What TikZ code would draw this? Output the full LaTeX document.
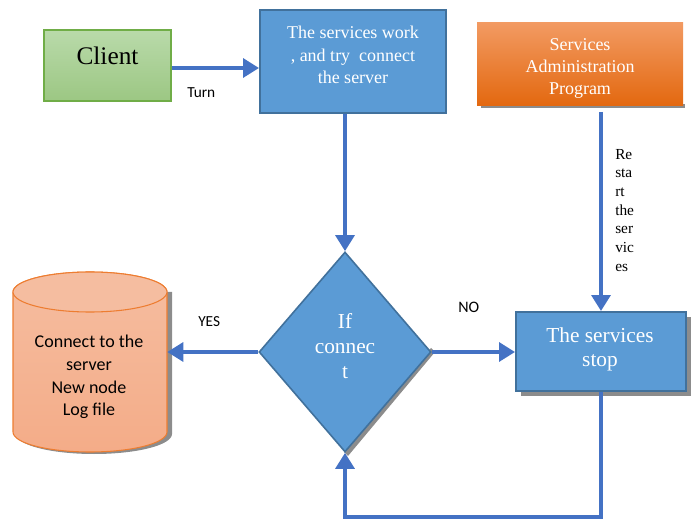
\documentclass[tikz,border=0pt]{standalone}
\usepackage{fontspec}
\setmainfont{Liberation Serif}
\newfontfamily\calib{Carlito}
\usetikzlibrary{shapes.geometric,arrows.meta}
\definecolor{boxblue}{HTML}{5B9BD5}
\definecolor{boxedge}{HTML}{41719C}
\definecolor{flow}{HTML}{4472C4}
\definecolor{gtop}{HTML}{B9DAAA}
\definecolor{gbot}{HTML}{9CC783}
\definecolor{gedge}{HTML}{70AD47}
\definecolor{otop}{HTML}{F29A62}
\definecolor{obot}{HTML}{E3680F}
\definecolor{salmon}{HTML}{F4AC88}
\definecolor{salmontop}{HTML}{F5BDA0}
\definecolor{salmonedge}{HTML}{ED7D31}
\definecolor{shade}{HTML}{8C8C8C}
\tikzset{
  flowline/.style={draw=flow, line width=3.6pt, -{Triangle[length=12pt,width=14pt]}},
  bluebox/.style={rectangle, fill=boxblue, draw=boxedge, line width=1.4pt, inner sep=0pt},
  boxtext/.style={text=white, align=center, inner sep=0pt},
  lbl/.style={font=\calib\fontsize{11.5}{13}\selectfont, inner sep=0pt},
  shadow/.style={fill=shade},
}
\begin{document}
\begin{tikzpicture}[x=0.75pt, y=-0.75pt]
\useasboundingbox (0,0) rectangle (693,520);

% shadows behind shapes
\fill[shadow] (481,104) rectangle (685,108);
\fill[shadow] (521,317) rectangle (691,396);
\fill[shadow] (435,352) -- (348,456) -- (344,452) -- (431,348) -- cycle;
\fill[shadow] (167,292) -- (172,292) -- (172,434)
  arc[start angle=0, end angle=180, x radius=78, y radius=20] -- cycle;

% client
\node[rectangle, top color=gtop, bottom color=gbot, draw=gedge, line width=0.8pt,
  minimum width=95.25pt, minimum height=53.25pt, inner sep=0pt] (client) at (107.5,65.5) {};
\node[anchor=base, inner sep=0pt, font=\fontsize{19}{22}\selectfont] (clienttext) at (107.5,65) {Client};

% services running
\node[bluebox, minimum width=139.5pt, minimum height=77.25pt] (work) at (353,61.5) {};
\node[boxtext, font=\fontsize{13.5}{17}\selectfont] (worktext) at (353,55)
  {The services work\\, and try\ \ connect\\the server};

% administration program
\node[rectangle, top color=otop, bottom color=obot, minimum width=154.5pt,
  minimum height=62.25pt, inner sep=0pt] (admin) at (580,64.5) {};
\node[boxtext, font=\fontsize{13.5}{16.5}\selectfont] (admintext) at (580,68)
  {Services\\Administration\\Program};

% decision
\node[diamond, fill=boxblue, draw=boxedge, line width=1.2pt, minimum width=129pt,
  minimum height=150pt, inner sep=0pt] (dia) at (345,352) {};
\node[boxtext, font=\fontsize{16}{19}\selectfont] (diatext) at (345,346) {If\\connec\\t};

% services stopped
\node[bluebox, minimum width=127.5pt, minimum height=59.25pt] (stop) at (601,351.5) {};
\node[boxtext, font=\fontsize{16}{18}\selectfont] (stoptext) at (600,349) {The services\\stop};

% database cylinder
\path[top color=salmontop, bottom color=salmon, draw=salmonedge, line width=0.8pt]
  (13,292) -- (13,432) arc[start angle=180, end angle=0, x radius=77, y radius=20]
  -- (167,292) arc[start angle=0, end angle=-180, x radius=77, y radius=20] -- cycle;
\draw[salmonedge, line width=0.8pt, fill=salmontop]
  (90,292) ellipse[x radius=77, y radius=20];
\node[rectangle, minimum width=115.5pt, minimum height=135pt, inner sep=0pt] (db) at (90,362) {};
\node[align=center, inner sep=0pt, font=\calib\fontsize{13.5}{17}\selectfont] (dbtext) at (89,377)
  {Connect to the\\server\\New node\\Log file};

% connectors
\draw[flowline] (client.east |- 0,68) -- (work.west |- 0,68);
\draw[flowline] (dia.north |- work.south) -- (dia.north);
\coordinate (admout) at (601,112);
\draw[flowline] (admout) -- (stop.north);
\draw[flowline] (dia.west) -- (dia.west -| db.east);
\draw[flowline] (dia.east) -- (stop.west |- dia.east);
\coordinate (loop) at (601,517);
\draw[flowline] (stop.south) -- (loop) -| (dia.south);

% connector labels
\node[lbl, anchor=west] (turn) at (187,93) {Turn};
\node[lbl, anchor=west] (yes) at (198,322) {YES};
\node[lbl, anchor=west, font=\calib\fontsize{12}{13}\selectfont] (no) at (458,307) {NO};
\node[anchor=north west, inner sep=0pt, align=left, font=\fontsize{11.5}{14}\selectfont] (restart) at (615,149)
  {Re\\sta\\rt\\the\\ser\\vic\\es};
\end{tikzpicture}
\end{document}
